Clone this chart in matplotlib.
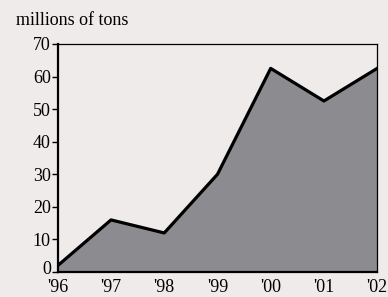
import numpy as np
import matplotlib.pyplot as plt
import matplotlib.transforms as mtransforms

years = ["'96", "'97", "'98", "'99", "'00", "'01", "'02"]
tons = [2, 16, 12, 30, 62.5, 52.5, 62.5]

plt.rcParams['font.family'] = 'Liberation Serif'
plt.rcParams['font.size'] = 13

fig = plt.figure(figsize=(3.88, 2.97), dpi=100, facecolor='#efebea')
ax = fig.add_axes([0.149, 0.084, 0.823, 0.768])
ax.set_facecolor('#efebea')

x = np.arange(len(years))
ax.fill_between(x, tons, 0, color='#8c8b90', zorder=1)
ax.plot(x, tons, color='black', lw=2.3, zorder=2)

ax.set_xlim(0, len(years) - 1)
ax.set_ylim(0, 70)
ax.set_yticks(range(0, 71, 10))
ax.set_xticks(x)
ax.set_xticklabels(years)
ax.tick_params(axis='x', length=0, pad=5, labelsize=13)
ax.tick_params(axis='y', length=4, width=1, pad=1, labelsize=13)

# nudge the "0" label up a little so it clears '96
lab0 = ax.get_yticklabels()[0]
lab0.set_transform(lab0.get_transform() + mtransforms.ScaledTranslation(0, 3 / 72, fig.dpi_scale_trans))

for s in ['left', 'bottom']:
    ax.spines[s].set_linewidth(1.6)
for s in ['top', 'right']:
    ax.spines[s].set_linewidth(0.9)

fig.text(0.04, 0.93, 'millions of tons', fontsize=13, ha='left', va='center')

fig.savefig('out.png', dpi=100, facecolor=fig.get_facecolor())
